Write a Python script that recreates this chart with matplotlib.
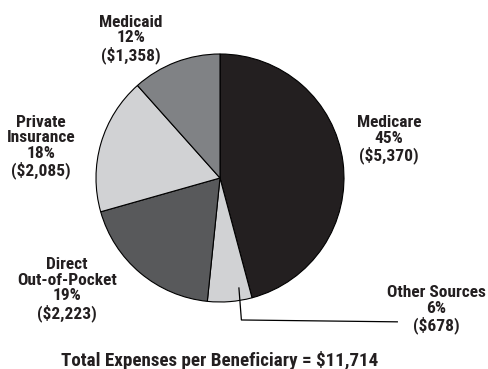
import numpy as np
import matplotlib
matplotlib.use("Agg")
import matplotlib.pyplot as plt
from matplotlib import font_manager

# data
sources = ["Medicare", "Other Sources", "Direct\nOut-of-Pocket", "Private\nInsurance", "Medicaid"]
dollars = [5370, 678, 2223, 2085, 1358]
pct_labels = ["45%", "6%", "19%", "18%", "12%"]
colors = ["#231f20", "#d1d2d4", "#58595b", "#d1d2d4", "#808285"]
total_label = "Total Expenses per Beneficiary = $11,714"

# condensed bold font, like the original
names = {f.name for f in font_manager.fontManager.ttflist}
fam = "DejaVu Sans"
for cand in ["Roboto Condensed", "Archivo Narrow", "PT Sans Narrow", "Liberation Sans Narrow"]:
    if cand in names:
        fam = cand
        break
plt.rcParams["font.family"] = [fam, "DejaVu Sans"]

fig = plt.figure(figsize=(4.88, 3.69), dpi=100)
ax = fig.add_axes([96 / 488, 67 / 369, 248 / 488, 248 / 369])

wedges, _ = ax.pie(dollars, colors=colors, startangle=90, counterclock=False,
                   radius=1.0, wedgeprops=dict(edgecolor="black", linewidth=0.8))
ax.set_xlim(-1, 1)
ax.set_ylim(-1, 1)
ax.set_aspect("equal")
ax.axis("off")

# label positions (pie data coords)
label_pos = [(1.363, 0.31), (1.742, -1.06), (-1.234, -0.90), (-1.444, 0.25), (-0.718, 1.12)]
for name, d, p, (x, y) in zip(sources, dollars, pct_labels, label_pos):
    txt = f"{name}\n{p}\n(${d:,})"
    ax.text(x, y, txt, ha="center", va="center", fontsize=12.5, fontweight="bold",
            color="#231f20", linespacing=1.05, clip_on=False)

# leader line for Other Sources
w = wedges[1]
ang = np.deg2rad(w.theta1 + 0.75 * (w.theta2 - w.theta1))
x0, y0 = 0.9 * np.cos(ang), 0.9 * np.sin(ang)
ax.plot([x0, x0 + 0.02, 1.43], [y0, -1.145, -1.16], color="black", lw=0.9, clip_on=False)

fig.text(220 / 488, 1 - 361 / 369, total_label, ha="center", va="center",
         fontsize=13.7, fontweight="bold", color="#231f20")

fig.savefig("out.png", dpi=100)
